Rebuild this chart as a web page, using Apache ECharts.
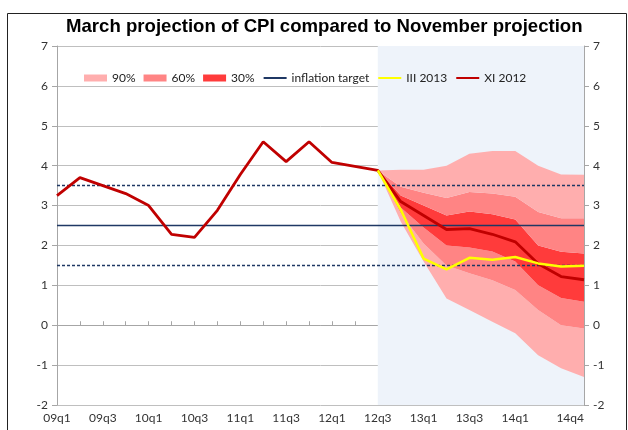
<!DOCTYPE html>
<html>
<head>
<meta charset="utf-8">
<script src="https://cdn.jsdelivr.net/npm/echarts@6/dist/echarts.min.js"></script>
<style>
  html, body { margin: 0; padding: 0; background: #fff; }
  #chart { width: 628px; height: 430px; }
</style>
</head>
<body>
<div id="chart"></div>
<script>
// quarters 09q1 .. 14q4
const quarters = [
  '09q1', '09q2', '09q3', '09q4', '10q1', '10q2', '10q3', '10q4',
  '11q1', '11q2', '11q3', '11q4', '12q1', '12q2', '12q3', '12q4',
  '13q1', '13q2', '13q3', '13q4', '14q1', '14q2', '14q3', '14q4'
];
const yTicks = [-2, -1, 0, 1, 2, 3, 4, 5, 6, 7];

// November projection (actuals + central path)
const xi2012 = [3.25, 3.7, 3.5, 3.3, 3.0, 2.28, 2.2, 2.88, 3.78, 4.6, 4.1, 4.6,
  4.08, 3.98, 3.88, 3.1, 2.75, 2.4, 2.42, 2.28, 2.09, 1.54, 1.22, 1.14];

// March projection, from 12q3
const iii2013 = [3.88, 2.9, 1.67, 1.4, 1.69, 1.64, 1.71, 1.55, 1.47, 1.49];

// fan bands, from 12q3
const lo90 = [3.88, 2.6, 1.6, 0.67, 0.38, 0.09, -0.2, -0.75, -1.08, -1.3];
const lo60 = [3.88, 2.8, 2.05, 1.5, 1.3, 1.13, 0.88, 0.38, 0.0, -0.08];
const lo30 = [3.88, 2.95, 2.45, 2.0, 1.95, 1.85, 1.6, 1.0, 0.68, 0.59];
const up30 = [3.88, 3.25, 3.0, 2.75, 2.85, 2.78, 2.65, 2.0, 1.84, 1.8];
const up60 = [3.88, 3.47, 3.32, 3.19, 3.34, 3.3, 3.22, 2.84, 2.68, 2.68];
const up90 = [3.88, 3.9, 3.9, 4.0, 4.3, 4.37, 4.37, 4.0, 3.78, 3.77];

const target = 2.5;
const tolerance = 1;
const fanStart = quarters.indexOf('12q3');

const col90 = '#FFAEAE';
const col60 = '#FF8484';
const col30 = '#FF3B3B';
const navy = '#1F3864';
const font = 'Lato, "Open Sans", sans-serif';

const pad = arr => quarters.map((q, i) => (i < fanStart ? null : arr[i - fanStart]));
const diff = (a, b) => a.map((v, i) => +(v - b[i]).toFixed(3));
const flat = v => quarters.map(() => v);

const band = (name, values, color) => ({
  name: name,
  type: 'line',
  stack: 'fan',
  stackStrategy: 'all',
  data: pad(values),
  symbol: 'none',
  lineStyle: { width: 0, opacity: 0 },
  areaStyle: { color: color, opacity: 1 },
  itemStyle: { color: color },
  silent: true
});

const chart = echarts.init(document.getElementById('chart'));

chart.setOption({
  animation: false,
  backgroundColor: '#fff',
  title: {
    text: 'March projection of CPI compared to November projection',
    left: 61,
    top: 12,
    textStyle: { fontFamily: '"Liberation Sans", Arial, sans-serif', fontSize: 18.6, fontWeight: 'bold', color: '#000' }
  },
  graphic: [{
    type: 'rect',
    shape: { x: 7.5, y: 13.5, width: 619, height: 440 },
    style: { fill: 'none', stroke: '#222', lineWidth: 1 },
    silent: true
  }],
  legend: {
    left: 79,
    top: 67,
    itemWidth: 23,
    itemHeight: 7,
    itemGap: 8,
    textStyle: { fontFamily: font, fontSize: 12, color: '#222' },
    data: [
      { name: '90%', icon: 'rect', itemStyle: { color: col90 } },
      { name: '60%', icon: 'rect', itemStyle: { color: col60 } },
      { name: '30%', icon: 'rect', itemStyle: { color: col30 } },
      { name: 'inflation target', itemStyle: { opacity: 0 } },
      { name: 'III 2013', itemStyle: { opacity: 0 } },
      { name: 'XI 2012', itemStyle: { opacity: 0 } }
    ]
  },
  grid: { left: 57, right: 44, top: 46, bottom: 25 },
  xAxis: {
    type: 'category',
    data: quarters,
    boundaryGap: false,
    axisLine: { lineStyle: { color: '#A6A6A6' } },
    axisTick: { interval: 0, inside: true, length: 4, lineStyle: { color: '#A6A6A6' } },
    axisLabel: {
      interval: i => (i % 2 === 0 && i !== 22) || i === 23,
      alignMaxLabel: 'right',
      fontFamily: font,
      fontSize: 12,
      color: '#333',
      margin: 7
    },
    splitLine: { show: false }
  },
  yAxis: [0, 1].map(k => ({
    type: 'value',
    position: k === 0 ? 'left' : 'right',
    min: yTicks[0],
    max: yTicks[yTicks.length - 1],
    interval: 1,
    axisLine: { show: true, lineStyle: { color: '#A6A6A6' } },
    axisTick: { show: true, length: 5, lineStyle: { color: '#A6A6A6' } },
    axisLabel: { fontFamily: font, fontSize: 12, color: '#333', margin: 9 },
    splitLine: { show: k === 0, lineStyle: { color: '#BFBFBF', width: 1 } }
  })),
  series: [
    {
      name: 'shade',
      type: 'line',
      data: [],
      z: -1,
      silent: true,
      markArea: {
        silent: true,
        itemStyle: { color: '#EEF3FA' },
        data: [[{ xAxis: quarters[fanStart] }, { xAxis: quarters[quarters.length - 1] }]]
      }
    },
    {
      name: 'base',
      type: 'line',
      stack: 'fan',
      stackStrategy: 'all',
      data: pad(lo90),
      symbol: 'none',
      lineStyle: { width: 0, opacity: 0 },
      silent: true
    },
    band('90%', diff(lo60, lo90), col90),
    band('60%', diff(lo30, lo60), col60),
    band('30%', diff(up30, lo30), col30),
    band('60%', diff(up60, up30), col60),
    band('90%', diff(up90, up60), col90),
    {
      name: 'inflation target',
      type: 'line',
      data: flat(target),
      symbol: 'none',
      itemStyle: { color: navy },
      lineStyle: { color: navy, width: 1.5 }
    },
    {
      name: 'upper tolerance',
      type: 'line',
      data: flat(target + tolerance),
      symbol: 'none',
      lineStyle: { color: navy, width: 1.5, type: [3, 2] }
    },
    {
      name: 'lower tolerance',
      type: 'line',
      data: flat(target - tolerance),
      symbol: 'none',
      lineStyle: { color: navy, width: 1.5, type: [3, 2] }
    },
    {
      name: 'XI 2012',
      type: 'line',
      data: xi2012,
      symbol: 'none',
      itemStyle: { color: '#C00000' },
      lineStyle: { color: '#C00000', width: 2.8 }
    },
    {
      name: 'III 2013',
      type: 'line',
      data: pad(iii2013),
      symbol: 'none',
      itemStyle: { color: '#FFFF00' },
      lineStyle: { color: '#FFFF00', width: 2.5 }
    }
  ]
});
</script>
</body>
</html>
